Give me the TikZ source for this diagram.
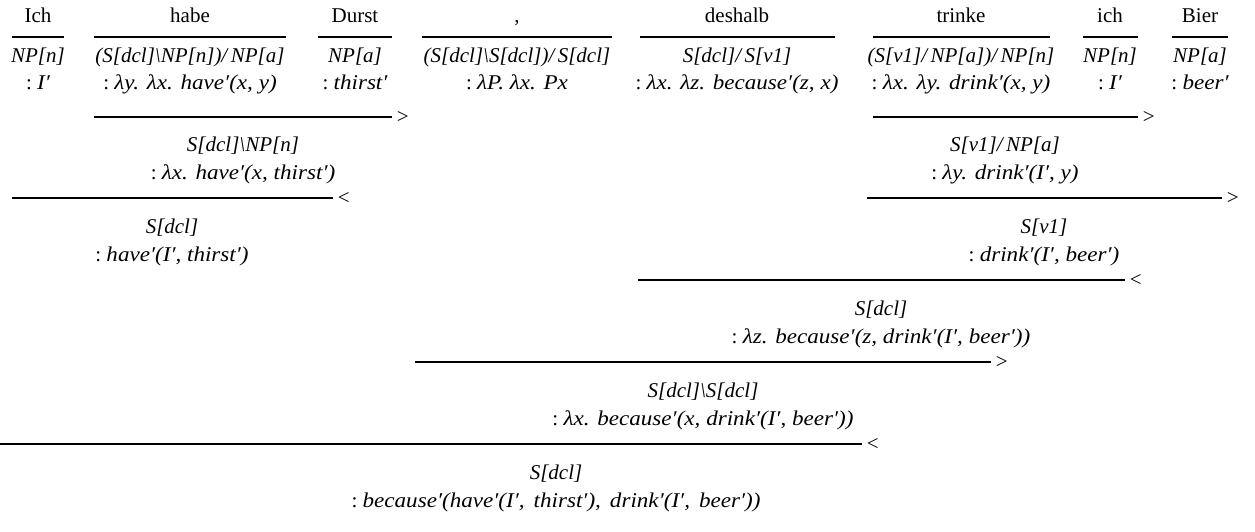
\documentclass[tikz,border=0pt]{standalone}
\usepackage{fontspec}
\setmainfont{Liberation Serif}
\newfontfamily\semfam{Liberation Serif}[FakeStretch=1.1]
\newcommand\wfont{\fontsize{21}{25}\selectfont}
\newcommand\cfont{\fontsize{21}{25}\selectfont\itshape}
\newcommand\sfont{\fontsize{21}{25}\selectfont}
\newcommand\semx[1]{\textup{:}\ {\semfam\itshape #1}}
\newcommand\bsl{\textbackslash}
\newcommand\wc{,\hspace{9pt}}
\begin{document}
\begin{tikzpicture}[x=1pt,y=-1pt,
  word/.style={anchor=base,inner sep=0pt,font=\wfont},
  cat/.style={anchor=base,inner sep=0pt,font=\cfont},
  sem/.style={anchor=base,inner sep=0pt,font=\sfont},
  rul/.style={line width=1.8pt},
  op/.style={anchor=west,inner sep=0pt,font=\wfont,xshift=4pt}]
\useasboundingbox (0,0) rectangle (1255,532);
% lexical entries
\node[word] (w1) at (38,23) {Ich};
\node[word] (w2) at (190,23) {habe};
\node[word] (w3) at (355,23) {Durst};
\node[word] (w4) at (517,23) {,};
\node[word] (w5) at (737,23) {deshalb};
\node[word] (w6) at (961,23) {trinke};
\node[word] (w7) at (1110,23) {ich};
\node[word] (w8) at (1200,23) {Bier};
\node[cat] (c1) at (38,63) {NP[n]};
\node[cat] (c2) at (190,63) {(S[dcl]\bsl NP[n])/\,NP[a]};
\node[cat] (c3) at (355,63) {NP[a]};
\node[cat] (c4) at (517,63) {(S[dcl]\bsl S[dcl])/\,S[dcl]};
\node[cat] (c5) at (737,63) {S[dcl]/\,S[v1]};
\node[cat] (c6) at (961,63) {(S[v1]/\,NP[a])/\,NP[n]};
\node[cat] (c7) at (1110,63) {NP[n]};
\node[cat] (c8) at (1200,63) {NP[a]};
\node[sem] (s1) at (38,90) {\semx{I′}};
\node[sem] (s2) at (190,90) {\semx{λy. λx. have′(x, y)}};
\node[sem] (s3) at (355,90) {\semx{thirst′}};
\node[sem] (s4) at (517,90) {\semx{λP. λx. Px}};
\node[sem] (s5) at (737,90) {\semx{λx. λz. because′(z, x)}};
\node[sem] (s6) at (961,90) {\semx{λx. λy. drink′(x, y)}};
\node[sem] (s7) at (1110,90) {\semx{I′}};
\node[sem] (s8) at (1200,90) {\semx{beer′}};
% underlines
\foreach \n/\a/\b in {1/12/64,2/94/286,3/318/392,4/422/612,5/640/835,6/873/1050,7/1083/1138,8/1172/1228}{
  \coordinate (u\n a) at (\a,37);
  \coordinate (u\n b) at (\b,37);
  \draw[rul] (u\n a) -- (u\n b);
}
% combination rules
\coordinate (r1a) at (94,117);  \coordinate (r1b) at (392,117);
\coordinate (r2a) at (873,117); \coordinate (r2b) at (1138,117);
\coordinate (r3a) at (12,198);  \coordinate (r3b) at (333,198);
\coordinate (r4a) at (867,198); \coordinate (r4b) at (1222,198);
\coordinate (r5a) at (638,280); \coordinate (r5b) at (1125,280);
\coordinate (r6a) at (415,362); \coordinate (r6b) at (991,362);
\coordinate (r7a) at (0,444);   \coordinate (r7b) at (862,444);
\draw[rul] (r1a) -- (r1b) node[op] (o1) {>};
\draw[rul] (r2a) -- (r2b) node[op] (o2) {>};
\draw[rul] (r3a) -- (r3b) node[op] (o3) {<};
\draw[rul] (r4a) -- (r4b) node[op] (o4) {>};
\draw[rul] (r5a) -- (r5b) node[op] (o5) {<};
\draw[rul] (r6a) -- (r6b) node[op] (o6) {>};
\draw[rul] (r7a) -- (r7b) node[op] (o7) {<};
% derived results
\node[cat] (d1c) at (243,151) {S[dcl]\bsl NP[n]};
\node[sem] (d1s) at (243,179) {\semx{λx. have′(x, thirst′)}};
\node[cat] (d2c) at (1005,151) {S[v1]/\,NP[a]};
\node[sem] (d2s) at (1005,179) {\semx{λy. drink′(I′, y)}};
\node[cat] (d3c) at (172,233) {S[dcl]};
\node[sem] (d3s) at (172,261) {\semx{have′(I′, thirst′)}};
\node[cat] (d4c) at (1044,233) {S[v1]};
\node[sem] (d4s) at (1044,261) {\semx{drink′(I′, beer′)}};
\node[cat] (d5c) at (881,315) {S[dcl]};
\node[sem] (d5s) at (881,343) {\semx{λz. because′(z, drink′(I′, beer′))}};
\node[cat] (d6c) at (703,397) {S[dcl]\bsl S[dcl]};
\node[sem] (d6s) at (703,425) {\semx{λx. because′(x, drink′(I′, beer′))}};
\node[cat] (d7c) at (556,479) {S[dcl]};
\node[sem] (d7s) at (556,507) {\semx{because′(have′(I′\wc thirst′)\wc drink′(I′\wc beer′))}};
\end{tikzpicture}
\end{document}
